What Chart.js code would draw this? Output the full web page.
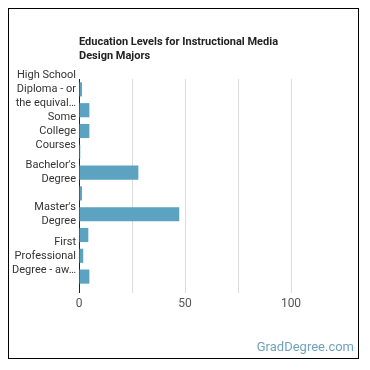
<!DOCTYPE html>
<html>
<head>
<meta charset="utf-8">
<script src="https://cdn.jsdelivr.net/npm/chart.js@4"></script>
<style>
  body { margin: 0; background: #fff; }
  #wrap { position: relative; width: 370px; height: 370px; }
  #frame { position: absolute; left: 8px; top: 8px; width: 351px; height: 351px; border: 1.5px solid #000; box-sizing: border-box; pointer-events: none; }
</style>
</head>
<body>
<div id="wrap">
  <canvas id="chart" width="370" height="370"></canvas>
  <div id="frame"></div>
</div>
<script>
// chart data
const categories = [
    "High School Diploma - or the equivalent (for example: GED)",
    "Post-Secondary Certificate - awarded for training completed after high school",
    "Some College Courses",
    "Associate's Degree (or other 2-year degree)",
    "Bachelor's Degree",
    "Post-Baccalaureate Certificate",
    "Master's Degree",
    "Post-Master's Certificate",
    "First Professional Degree - awarded for completion of a program",
    "Doctoral Degree"
];
const percents = [1.4, 4.9, 4.9, 0.6, 28, 1.4, 47.3, 4.4, 2, 4.9];
const xTicks = [0, 50, 100];
const titleLines = ["Education Levels for Instructional Media", "Design Majors"];

const labelFont = '11px Roboto';
const measureCtx = document.createElement('canvas').getContext('2d');

// wrap a label into at most 3 lines; the 3rd line takes the rest and gets cut with an ellipsis
function wrapLabel(text, maxW) {
    measureCtx.font = labelFont;
    const fits = s => measureCtx.measureText(s).width <= maxW;
    const words = text.split(' ');
    const lines = [];
    let cur = '';
    let i = 0;
    for (; i < words.length && lines.length < 2; i++) {
        const test = cur ? cur + ' ' + words[i] : words[i];
        if (fits(test) || !cur) {
            cur = test;
        } else {
            lines.push(cur);
            cur = words[i];
        }
    }
    let rest = [cur].concat(words.slice(i)).filter(Boolean).join(' ');
    if (lines.length < 2) {
        if (rest) lines.push(rest);
        return lines;
    }
    if (!fits(rest)) {
        while (rest.length && !fits(rest + '…')) rest = rest.slice(0, -1);
        rest = rest.trimEnd() + '…';
    }
    lines.push(rest);
    return lines;
}

const decorations = {
    id: 'decorations',
    afterDraw(chart) {
        const ctx = chart.ctx;
        ctx.save();
        ctx.fillStyle = '#222';
        ctx.font = 'bold 11px Roboto';
        ctx.textBaseline = 'middle';
        titleLines.forEach((t, i) => ctx.fillText(t, chart.chartArea.left, 42 + i * 14));
        ctx.fillStyle = '#6fa3bb';
        ctx.font = '13px Roboto';
        ctx.textAlign = 'right';
        ctx.fillText('GradDegree.com', 354, 348);
        ctx.restore();
    }
};

function draw() {
    new Chart(document.getElementById('chart'), {
        type: 'bar',
        data: {
            labels: categories,
            datasets: [{
                data: percents,
                backgroundColor: '#5ba3c1',
                categoryPercentage: 0.68,
                barPercentage: 1
            }]
        },
        plugins: [decorations],
        options: {
            indexAxis: 'y',
            responsive: false,
            animation: false,
            layout: { padding: { left: 10, right: 26, top: 79, bottom: 53 } },
            plugins: { legend: { display: false }, tooltip: { enabled: false } },
            scales: {
                x: {
                    min: 0,
                    max: 125,
                    afterFit: s => { s.height = 30; },
                    border: { display: false },
                    grid: {
                        tickLength: 6,
                        color: c => c.tick && c.tick.value === 0 ? '#222' : (c.tick && c.tick.value === 125 ? 'rgba(0,0,0,0)' : '#dcdcdc')
                    },
                    ticks: {
                        stepSize: 25,
                        padding: 4,
                        color: '#555',
                        font: { family: 'Roboto', size: 12 },
                        callback: v => xTicks.includes(v) ? v : ''
                    }
                },
                y: {
                    afterFit: s => { s.width = 69; },
                    border: { display: true, color: '#222', width: 1 },
                    grid: { display: false, drawTicks: false, tickLength: 0 },
                    ticks: {
                        autoSkip: false,
                        padding: 3,
                        color: '#333',
                        font: { family: 'Roboto', size: 11, lineHeight: 1.27 },
                        callback: (v, i) => i % 2 === 0 ? wrapLabel(categories[i], 64.5) : ''
                    }
                }
            }
        }
    });
}

Promise.all([
    document.fonts.load('11px Roboto'),
    document.fonts.load('bold 11px Roboto')
]).then(draw, draw);
</script>
</body>
</html>
